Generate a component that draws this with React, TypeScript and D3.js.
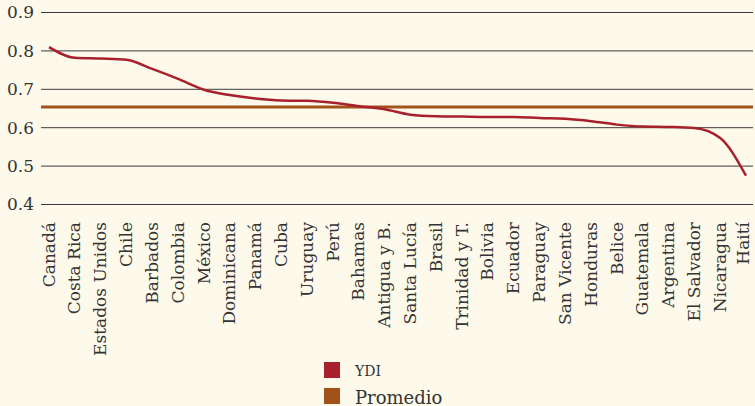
import React, { useEffect, useRef } from 'react';
import * as d3 from 'd3';

const countries = [
  'Canadá', 'Costa Rica', 'Estados Unidos', 'Chile', 'Barbados', 'Colombia', 'México',
  'Dominicana', 'Panamá', 'Cuba', 'Uruguay', 'Perú', 'Bahamas', 'Antigua y B.',
  'Santa Lucía', 'Brasil', 'Trinidad y T.', 'Bolivia', 'Ecuador', 'Paraguay',
  'San Vicente', 'Honduras', 'Belice', 'Guatemala', 'Argentina', 'El Salvador',
  'Nicaragua', 'Haití',
];
const ydi = [
  0.810, 0.782, 0.780, 0.777, 0.753, 0.727, 0.699,
  0.685, 0.676, 0.671, 0.670, 0.665, 0.656, 0.648,
  0.634, 0.630, 0.629, 0.628, 0.628, 0.625,
  0.623, 0.617, 0.608, 0.603, 0.602, 0.599,
  0.573, 0.475,
];
const promedio = 0.654;
const yTicks = [0.4, 0.5, 0.6, 0.7, 0.8, 0.9];
const legendItems = [
  { label: 'YDI', color: '#a8202c', size: 14 },
  { label: 'Promedio', color: '#a0521a', size: 18 },
];

const W = 755;
const H = 406;
const FONT = '"DejaVu Serif", serif';

const App = () => {
  const ref = useRef<SVGSVGElement>(null);

  useEffect(() => {
    const svg = d3.select(ref.current);
    svg.selectAll('*').remove();

    svg.append('rect').attr('width', W).attr('height', H).attr('fill', '#fdf9eb');

    const x = d3.scalePoint<string>().domain(countries).range([49, 746]);
    const y = d3.scaleLinear().domain([0.4, 0.9]).range([204.5, 12.5]);

    // lineas de grilla
    yTicks.forEach(t => {
      svg.append('line')
        .attr('x1', 41).attr('x2', 753)
        .attr('y1', y(t)).attr('y2', y(t))
        .style('stroke', '#3a3a3a')
        .style('stroke-width', 1);
      svg.append('text')
        .attr('x', 34).attr('y', y(t))
        .attr('dy', '0.35em')
        .attr('text-anchor', 'end')
        .style('font-family', FONT)
        .style('font-size', '17px')
        .style('fill', '#333')
        .text(t.toFixed(1));
    });

    // promedio
    svg.append('line')
      .attr('x1', 41).attr('x2', 753)
      .attr('y1', y(promedio)).attr('y2', y(promedio))
      .style('stroke', '#a0521a')
      .style('stroke-width', 3);

    const line = d3.line<number>()
      .x((d, i) => x(countries[i]) as number)
      .y(d => y(d))
      .curve(d3.curveMonotoneX);

    svg.append('path')
      .attr('d', line(ydi))
      .style('fill', 'none')
      .style('stroke', '#a8202c')
      .style('stroke-width', 2.5);

    // etiquetas del eje x
    countries.forEach((c, i) => {
      const lx = (x(c) as number) - (i === countries.length - 1 ? 3 : 0);
      svg.append('text')
        .attr('transform', `translate(${lx},222) rotate(-90)`)
        .attr('dy', '0.33em')
        .attr('text-anchor', 'end')
        .style('font-family', FONT)
        .style('font-size', '17px')
        .style('fill', '#333')
        .text(c);
    });

    // leyenda
    legendItems.forEach((item, i) => {
      const ly = 362 + i * 26;
      svg.append('rect')
        .attr('x', 324).attr('y', ly)
        .attr('width', 16).attr('height', 16)
        .attr('fill', item.color);
      svg.append('text')
        .attr('x', 355).attr('y', ly + 14 + i * 1.5)
        .style('font-family', FONT)
        .style('font-size', `${item.size}px`)
        .style('fill', '#333')
        .text(item.label);
    });
  }, []);

  return (
    <div style={{ position: 'fixed', left: 0, top: 0 }}>
      <svg ref={ref} width={W} height={H} style={{ display: 'block' }} />
    </div>
  );
};

export default App;
